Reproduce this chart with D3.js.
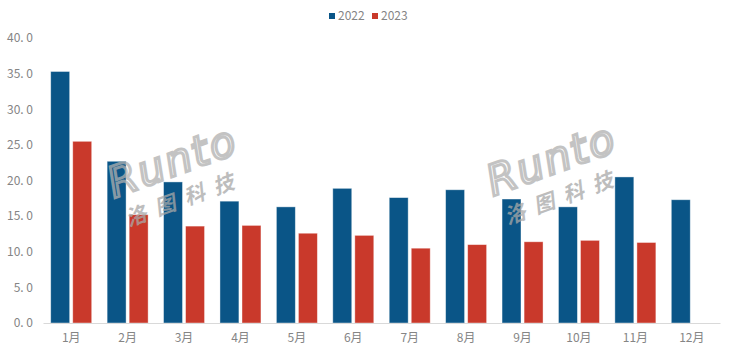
<!DOCTYPE html>
<html><head><meta charset="utf-8">
<script src="https://cdn.jsdelivr.net/npm/d3@7"></script>
<style>body{margin:0;background:#fff}svg{display:block}</style>
</head><body>
<svg id="c" width="731" height="356"></svg>
<script>
const categories = ["1月","2月","3月","4月","5月","6月","7月","8月","9月","10月","11月","12月"];
const series2022 = [35.3,22.7,19.8,17.1,16.3,18.9,17.6,18.7,17.4,16.3,20.5,17.3];
const series2023 = [25.5,15.2,13.6,13.7,12.6,12.3,10.5,11.0,11.4,11.6,11.3,null];
const seriesNames = ["2022","2023"];
const colors = ["#0A5587","#C9392B"];
const yTicks = [0,5,10,15,20,25,30,35,40];

const svg = d3.select("#c");
const font = "'Noto Sans CJK SC', 'Liberation Sans', sans-serif";
const x = d3.scaleBand().domain(categories).range([43,720]).paddingInner(0).paddingOuter(0);
const y = d3.scaleLinear().domain([0,40]).range([323,38]);
const inner = d3.scaleBand().domain([0,1]).range([0,x.bandwidth()]).paddingInner(0.14).paddingOuter(0.35);

// bars
const data = categories.map((c,i)=>({c, vals:[series2022[i],series2023[i]]}));
const groups = svg.append("g").selectAll("g").data(data).join("g")
  .attr("transform",d=>`translate(${x(d.c)},0)`);
groups.selectAll("rect").data(d=>d.vals.map((v,k)=>({v,k})).filter(e=>e.v!=null)).join("rect")
  .attr("x",e=>inner(e.k)).attr("width",inner.bandwidth())
  .attr("y",e=>y(e.v)).attr("height",e=>y(0)-y(e.v))
  .attr("fill",e=>colors[e.k]).attr("stroke","rgba(255,255,255,0.5)").attr("stroke-width",0.8);

// watermarks (drawn above bars)
function watermark(cx, cy){
  const g = svg.append("g").attr("transform",`translate(${cx},${cy}) rotate(-20)`).attr("opacity",0.75);
  g.append("text").attr("x",0).attr("y",0).attr("font-family","'DejaVu Sans', sans-serif")
   .attr("font-size",42).attr("font-style","italic").attr("font-weight",300).attr("fill","none")
   .attr("stroke","#b0b0b0").attr("stroke-width",3).attr("letter-spacing",2).text("Runto");
  g.append("text").attr("x",4).attr("y",32).attr("font-family",font)
   .attr("font-size",21).attr("font-weight",700).attr("font-style","italic").attr("fill","#a8a8a8")
   .attr("letter-spacing",10).text("洛图科技");
}
watermark(114,198);
watermark(493,196);

// x axis
const xAxis = svg.append("g").attr("transform",`translate(0,${y(0)})`)
  .call(d3.axisBottom(x).tickSize(0).tickPadding(10));
xAxis.select(".domain").attr("stroke","#d9d9d9");
xAxis.selectAll("text").attr("font-family",font).attr("font-size",12).attr("fill","#858585");

// y axis
const yAxis = svg.append("g").attr("transform","translate(33,0)")
  .call(d3.axisLeft(y).tickValues(yTicks).tickSize(0).tickPadding(0).tickFormat(d=>d3.format(".1f")(d).replace(".",". ")));
yAxis.select(".domain").remove();
yAxis.selectAll("text").attr("font-family",font).attr("font-size",12).attr("fill","#858585");

// legend
const leg = svg.append("g");
const legX = [329,372];
seriesNames.forEach((n,i)=>{
  leg.append("rect").attr("x",legX[i]).attr("y",13).attr("width",6).attr("height",6).attr("fill",colors[i]);
  leg.append("text").attr("x",legX[i]+9).attr("y",16).attr("dy","0.35em").attr("font-family",font)
    .attr("font-size",12).attr("fill","#858585").text(n);
});
</script>
</body></html>
